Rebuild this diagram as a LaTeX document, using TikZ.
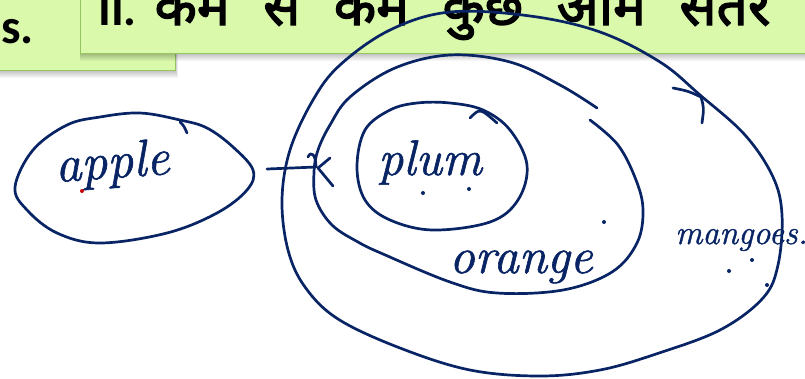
\documentclass[tikz,border=0pt]{standalone}
\usepackage{fontspec}
\newfontfamily\hindibold[Script=Devanagari, FakeBold=2.5]{Noto Sans}
\newfontfamily\latinbold{Carlito}
\newfontfamily\handfont[FakeBold=1.2]{Latin Modern Roman}
\definecolor{ink}{RGB}{8,36,100}
\definecolor{boxgreen}{RGB}{218,249,170}
\definecolor{boxedge}{RGB}{150,196,96}
\definecolor{reddot}{RGB}{200,0,0}
\tikzset{
  pen/.style={draw=ink, line width=2.7pt, line cap=round, line join=round},
  hand/.style={text=ink, inner sep=0pt, anchor=base west, font=\handfont\itshape\fontsize{#1}{#1}\selectfont},
  inkdot/.style={fill=ink, draw=none},
  banner/.style={fill=boxgreen, draw=boxedge, line width=1pt},
}
\begin{document}
\begin{tikzpicture}[x=1pt,y=-1pt]
\useasboundingbox (0,0) rectangle (805,378);
% ---- banner boxes with soft shadow
\foreach \k in {1,...,8}{
  \fill[black, opacity=0.035] (-20,-20) rectangle (175+0.4*\k,70+\k);
}
\draw[banner] (-20,-20) rectangle (175,70);
\node[inner sep=0pt, anchor=base west, font=\latinbold\bfseries\fontsize{49}{49}\selectfont] (s) at (1,43) {s.};
\foreach \k in {1,...,8}{
  \fill[black, opacity=0.035] (80,-20) rectangle (840,53+\k);
}
\draw[banner] (80,-20) rectangle (840,53);
\node[inner sep=0pt, anchor=base west, font=\latinbold\bfseries\fontsize{48}{48}\selectfont] (title) at (98,25)
  {II.\hspace{18pt}{\hindibold\fontsize{55}{55}\selectfont\spaceskip=33.5pt कम से कम कुछ आम संतरे}};
% ---- apple
\draw[pen] plot[smooth cycle, tension=0.6] coordinates {(15,187) (33,150) (67,125) (100,117) (140,113) (180,120) (207,128) (233,147) (253,170) (247,190) (217,213) (167,233) (100,243) (57,233) (27,210)};
\draw[pen] (180,122) .. controls (184,126) .. (187,133);
\node[hand=52, rotate=4] (apple) at (56,182) {apple};
\fill[reddot] (82,191) circle (2pt);
% ---- outer (mangoes)
\draw[pen] plot[smooth cycle, tension=0.6] coordinates {(450,12) (530,16) (600,32) (660,62) (700,95) (745,135) (773,177) (782,215) (778,265) (763,298) (720,330) (656,354) (600,370) (540,376) (470,370) (400,348) (338,319) (305,287) (288,250) (282,200) (290,150) (313,100) (340,65) (390,30)};
\draw[pen] (673,88) .. controls (688,91) .. (701,97) .. controls (704,108) .. (702,123);
% ---- middle (orange)
\draw[pen] plot[smooth, tension=0.6] coordinates {(590,120) (618,145) (636,180) (643,210) (637,243) (612,272) (563,290) (497,293) (450,282) (383,254) (358,242) (332,225) (316,200) (314,172) (318,150) (330,125) (350,97) (395,68) (450,55) (510,62) (560,85) (597,108)};
% ---- inner (plum)
\draw[pen] plot[smooth cycle, tension=0.6] coordinates {(357,167) (365,130) (390,110) (417,103) (450,103) (483,110) (510,130) (527,165) (518,200) (490,222) (433,230) (390,220) (365,200)};
\draw[pen] (470,118) .. controls (480,108) .. (497,123);
% ---- connector apple -> orange
\coordinate (cstart) at (267,169);
\coordinate (cend) at (316,167);
\draw[pen] (cstart) -- (cend);
\draw[pen] (308,157) .. controls (311,150) and (316,155) .. (cend);
\draw[pen] (330,158) -- (318,168) -- (333,186);
% ---- labels
\node[hand=50] (plum) at (378,175) {plum};
\node[hand=51] (orange) at (449,273) {orange};
\node[hand=34] (mangoes) at (675,244) {mangoes.};
% ---- dots
\fill[inkdot] (423,193) circle (2pt);
\fill[inkdot] (469,189) circle (2pt);
\fill[inkdot] (604,222) circle (2pt);
\fill[inkdot] (729,271) circle (2pt);
\fill[inkdot] (752,260) circle (2pt);
\fill[inkdot] (767,285) circle (2pt);
\end{tikzpicture}
\end{document}
